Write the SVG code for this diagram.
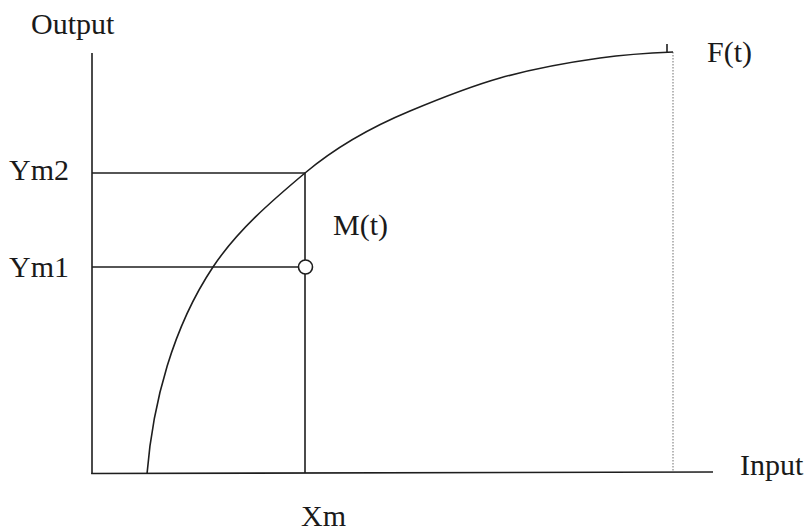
<svg xmlns="http://www.w3.org/2000/svg" width="807" height="531" viewBox="0 0 807 531">
<style>
.ln{fill:none;stroke:#1e1e1e;stroke-width:1.6;stroke-linecap:butt}
.lbl{font-family:"Liberation Serif","Times New Roman",serif;font-size:30px;fill:#1a1a1a}
.dot{fill:none;stroke:#888888;stroke-width:1.2;stroke-dasharray:1.5 1.5}
</style>
<rect width="807" height="531" fill="#ffffff"/>
<g id="connectors">
<line class="dot" x1="673" y1="52" x2="673" y2="472"/>
<line id="y-axis" class="ln" x1="92" y1="53" x2="92" y2="474"/>
<line id="x-axis" class="ln" x1="91.2" y1="473.5" x2="713" y2="472"/>
<line id="ym2-line" class="ln" x1="92" y1="173" x2="305" y2="173"/>
<line id="ym1-line" class="ln" x1="92" y1="267" x2="299" y2="267"/>
<line id="xm-line" class="ln" x1="305" y1="173" x2="305" y2="473"/>
<path id="frontier" class="ln" d="M147,474 C152.8,402.2 173,327 213,267 C237.3,230.5 271.4,201.2 305,173 C336.2,146.8 372.4,126.6 410,111 C439.5,98.7 469.2,86.7 500,78 C532.7,68.8 566.3,62.7 600,58 C624.2,54.6 648.6,53 673,52"/>
<line id="ft-tick" class="ln" x1="667" y1="44" x2="667" y2="53"/>
</g>
<g id="node-mt-point">
<circle cx="305.5" cy="267" r="7" fill="#ffffff" stroke="#1e1e1e" stroke-width="1.6"/>
</g>
<g id="label-output"><text class="lbl" x="31" y="34">Output</text></g>
<g id="label-ft"><text class="lbl" x="707" y="62">F(t)</text></g>
<g id="label-ym2"><text class="lbl" x="9" y="180">Ym2</text></g>
<g id="label-mt"><text class="lbl" x="333" y="235">M(t)</text></g>
<g id="label-ym1"><text class="lbl" x="9" y="277">Ym1</text></g>
<g id="label-xm"><text class="lbl" x="301" y="526">Xm</text></g>
<g id="label-input"><text class="lbl" x="740" y="475">Input</text></g>
</svg>
